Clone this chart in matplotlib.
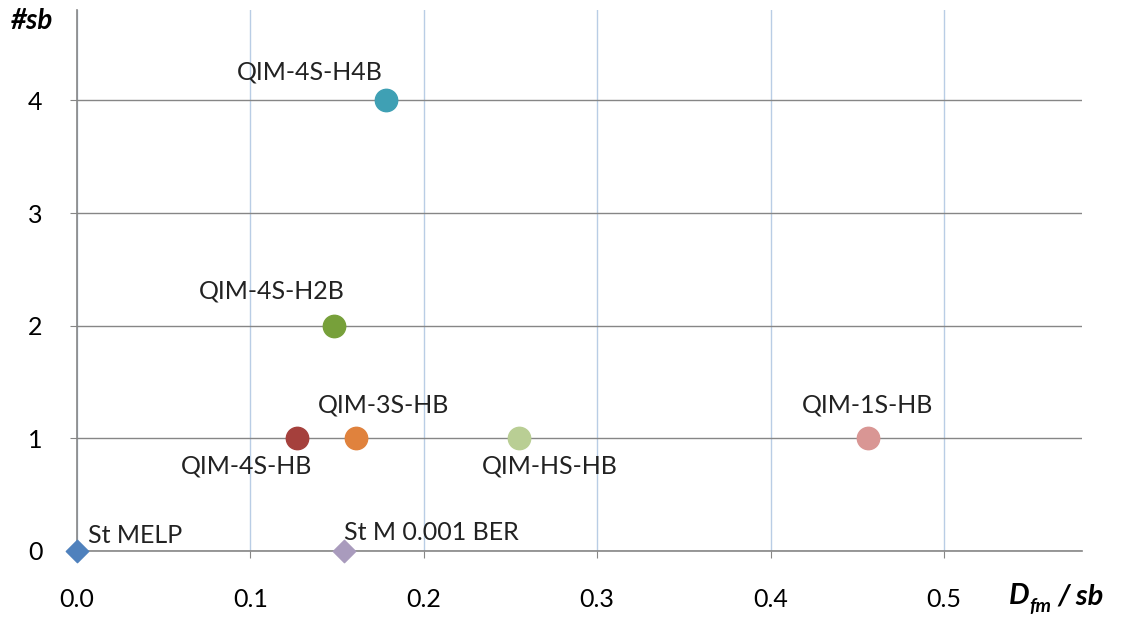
import matplotlib.pyplot as plt

# data
names = ["St MELP", "St M 0.001 BER", "QIM-4S-HB", "QIM-3S-HB",
         "QIM-HS-HB", "QIM-1S-HB", "QIM-4S-H2B", "QIM-4S-H4B"]
dfm = [0.0, 0.154, 0.127, 0.161, 0.255, 0.456, 0.148, 0.178]
nsb = [0, 0, 1, 1, 1, 1, 2, 4]
colors = ["#4F81BD", "#A99BBD", "#A5403C", "#E0823D",
          "#B9CE94", "#D99694", "#77A03A", "#3FA0B4"]
markers = ["D", "D", "o", "o", "o", "o", "o", "o"]

# label offsets in pixels (dx, dy, ha)
offsets = [(11, 15, "left"), (0, 18, "left"), (-51, -28, "center"),
           (27, 33, "center"), (31, -28, "center"), (0, 33, "center"),
           (-62, 35, "center"), (-76, 28, "center")]

plt.rcParams['font.family'] = ['Lato', 'DejaVu Sans']

fig = plt.figure(figsize=(11.27, 6.23), dpi=100)
ax = fig.add_axes([0.0683, 0.1156, 0.8917, 0.868])

for x, y, c, m in zip(dfm, nsb, colors, markers):
    if m == "D":
        ax.scatter(x, y, s=130, marker=m, color=c, zorder=3, clip_on=False)
    else:
        ax.scatter(x, y, s=260, marker=m, color=c, zorder=3, clip_on=False)

for name, x, y, (dx, dy, ha) in zip(names, dfm, nsb, offsets):
    ax.annotate(name, (x, y), xytext=(dx, dy), textcoords='offset pixels',
                ha=ha, va='center', fontsize=18, color='#222222')

ax.set_xlim(0, 0.5796)
ax.set_ylim(0, 4.8)
ax.set_xticks([0.0, 0.1, 0.2, 0.3, 0.4, 0.5])
ax.set_xticklabels(["0.0", "0.1", "0.2", "0.3", "0.4", "0.5"])
ax.set_yticks([0, 1, 2, 3, 4])

ax.grid(axis='x', color='#B9CDE5', linewidth=1)
ax.grid(axis='y', color='#868686', linewidth=1)
ax.set_axisbelow(True)

for s in ['top', 'right']:
    ax.spines[s].set_visible(False)
for s in ['left', 'bottom']:
    ax.spines[s].set_color('#868686')
    ax.spines[s].set_linewidth(1.2)

ax.tick_params(axis='x', length=5, color='#868686', labelsize=18, pad=22)
ax.tick_params(axis='y', length=5, color='#868686', labelsize=18, pad=20)

fig.text(0.028, 0.967, "#sb", fontsize=20, fontweight='bold', style='italic',
         ha='center', va='center')
# x axis title: D with subscript fm, then "/ sb"
fig.text(0.895, 0.030, "D", fontsize=21, fontweight='bold', style='italic',
         ha='left', va='baseline')
fig.text(0.913, 0.017, "fm", fontsize=14, fontweight='bold', style='italic',
         ha='left', va='baseline')
fig.text(0.938, 0.030, "/ sb", fontsize=21, fontweight='bold', style='italic',
         ha='left', va='baseline')

fig.savefig("out.png", dpi=100)
